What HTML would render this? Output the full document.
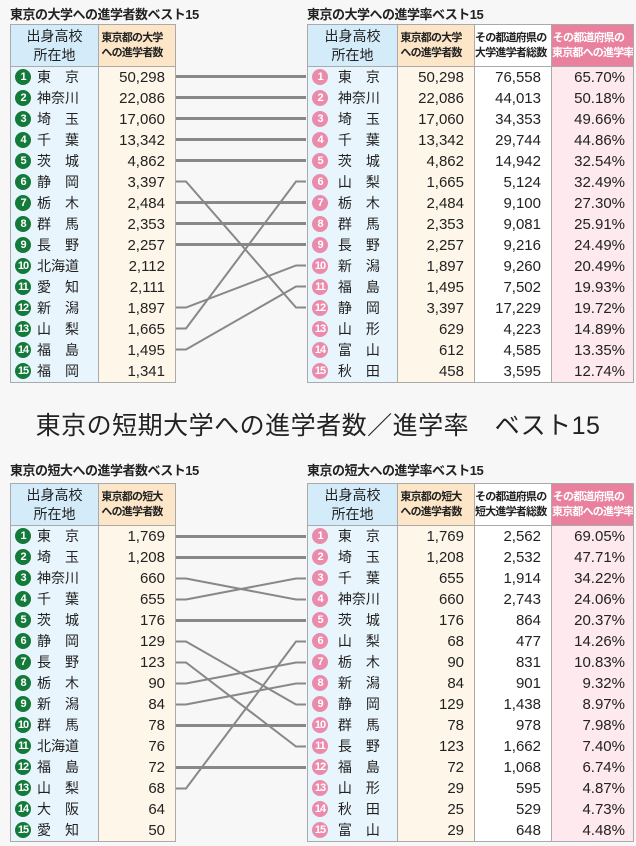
<!DOCTYPE html>
<html><head><meta charset="utf-8"><style>
body{margin:0;width:636px;height:846px;background:#f7f7f7;position:relative;overflow:hidden;font-family:"Liberation Sans","Noto Sans CJK JP",sans-serif;color:#222}
.st{position:absolute;font-size:13px;font-weight:bold;letter-spacing:-0.5px}
table{position:absolute;border-collapse:collapse;table-layout:fixed}
tr{height:21px}
td{padding:0;height:21px;line-height:21px;font-size:14px;border-left:1px solid #aaa;border-right:1px solid #aaa;white-space:nowrap;overflow:hidden;box-sizing:border-box}
tr.h{height:42px}
tr.h td{height:42px;font-size:11px;font-weight:bold;text-align:center;line-height:15px;border-top:1px solid #aaa;border-bottom:1px solid #aaa;letter-spacing:-0.8px}
tr.h td.n{font-size:14px;font-weight:normal;line-height:19px;background:#d4ecf9;letter-spacing:0}
tr.h td.o{background:#fde6c8}
tr.h td.w{background:#fff}
tr.h td.p{background:#e9819e;color:#fff}
tr:last-child td{border-bottom:1px solid #aaa}
td.n{background:#e9f5fd}
td.o{background:#fff6ea;text-align:right;padding-right:10px;font-size:15px}
td.w{background:#fff;text-align:right;padding-right:10px;font-size:15px}
td.p{background:#fde9ee;text-align:right;padding-right:8px;font-size:15px}
.c{display:inline-block;width:16px;height:16px;border-radius:50%;color:#fff;font-size:11px;font-weight:bold;text-align:center;line-height:16px;margin:0 6px 0 4px;vertical-align:middle;letter-spacing:-1px;position:relative;top:-1px}
.g{background:#147a3a}.k{background:#ea8bab}
.t{position:absolute;left:0;width:636px;text-align:center;top:406px;font-size:25px;letter-spacing:0.5px}
</style></head><body>
<div class="st" style="left:10px;top:4px">東京の大学への進学者数ベスト15</div>
<div class="st" style="left:307px;top:4px">東京の大学への進学率ベスト15</div>
<div class="st" style="left:10px;top:460px">東京の短大への進学者数ベスト15</div>
<div class="st" style="left:307px;top:460px">東京の短大への進学率ベスト15</div>
<div class="t">東京の短期大学への進学者数／進学率　ベスト15</div>

<table style="left:10px;top:24px;width:165px"><colgroup><col style="width:88px"><col style="width:77px"></colgroup>
<tr class="h"><td class="n">出身高校<br>所在地</td><td class="o">東京都の大学<br>への進学者数</td></tr>
<tr><td class="n"><span class="c g">1</span>東　京</td><td class="o">50,298</td></tr>
<tr><td class="n"><span class="c g">2</span>神奈川</td><td class="o">22,086</td></tr>
<tr><td class="n"><span class="c g">3</span>埼　玉</td><td class="o">17,060</td></tr>
<tr><td class="n"><span class="c g">4</span>千　葉</td><td class="o">13,342</td></tr>
<tr><td class="n"><span class="c g">5</span>茨　城</td><td class="o">4,862</td></tr>
<tr><td class="n"><span class="c g">6</span>静　岡</td><td class="o">3,397</td></tr>
<tr><td class="n"><span class="c g">7</span>栃　木</td><td class="o">2,484</td></tr>
<tr><td class="n"><span class="c g">8</span>群　馬</td><td class="o">2,353</td></tr>
<tr><td class="n"><span class="c g">9</span>長　野</td><td class="o">2,257</td></tr>
<tr><td class="n"><span class="c g">10</span>北海道</td><td class="o">2,112</td></tr>
<tr><td class="n"><span class="c g">11</span>愛　知</td><td class="o">2,111</td></tr>
<tr><td class="n"><span class="c g">12</span>新　潟</td><td class="o">1,897</td></tr>
<tr><td class="n"><span class="c g">13</span>山　梨</td><td class="o">1,665</td></tr>
<tr><td class="n"><span class="c g">14</span>福　島</td><td class="o">1,495</td></tr>
<tr><td class="n"><span class="c g">15</span>福　岡</td><td class="o">1,341</td></tr>
</table>

<table style="left:307px;top:24px;width:326px"><colgroup><col style="width:90px"><col style="width:77px"><col style="width:77px"><col style="width:82px"></colgroup>
<tr class="h"><td class="n">出身高校<br>所在地</td><td class="o">東京都の大学<br>への進学者数</td><td class="w">その都道府県の<br>大学進学者総数</td><td class="p">その都道府県の<br>東京都への進学率</td></tr>
<tr><td class="n"><span class="c k">1</span> 東　京</td><td class="o">50,298</td><td class="w">76,558</td><td class="p">65.70%</td></tr>
<tr><td class="n"><span class="c k">2</span> 神奈川</td><td class="o">22,086</td><td class="w">44,013</td><td class="p">50.18%</td></tr>
<tr><td class="n"><span class="c k">3</span> 埼　玉</td><td class="o">17,060</td><td class="w">34,353</td><td class="p">49.66%</td></tr>
<tr><td class="n"><span class="c k">4</span> 千　葉</td><td class="o">13,342</td><td class="w">29,744</td><td class="p">44.86%</td></tr>
<tr><td class="n"><span class="c k">5</span> 茨　城</td><td class="o">4,862</td><td class="w">14,942</td><td class="p">32.54%</td></tr>
<tr><td class="n"><span class="c k">6</span> 山　梨</td><td class="o">1,665</td><td class="w">5,124</td><td class="p">32.49%</td></tr>
<tr><td class="n"><span class="c k">7</span> 栃　木</td><td class="o">2,484</td><td class="w">9,100</td><td class="p">27.30%</td></tr>
<tr><td class="n"><span class="c k">8</span> 群　馬</td><td class="o">2,353</td><td class="w">9,081</td><td class="p">25.91%</td></tr>
<tr><td class="n"><span class="c k">9</span> 長　野</td><td class="o">2,257</td><td class="w">9,216</td><td class="p">24.49%</td></tr>
<tr><td class="n"><span class="c k">10</span> 新　潟</td><td class="o">1,897</td><td class="w">9,260</td><td class="p">20.49%</td></tr>
<tr><td class="n"><span class="c k">11</span> 福　島</td><td class="o">1,495</td><td class="w">7,502</td><td class="p">19.93%</td></tr>
<tr><td class="n"><span class="c k">12</span> 静　岡</td><td class="o">3,397</td><td class="w">17,229</td><td class="p">19.72%</td></tr>
<tr><td class="n"><span class="c k">13</span> 山　形</td><td class="o">629</td><td class="w">4,223</td><td class="p">14.89%</td></tr>
<tr><td class="n"><span class="c k">14</span> 富　山</td><td class="o">612</td><td class="w">4,585</td><td class="p">13.35%</td></tr>
<tr><td class="n"><span class="c k">15</span> 秋　田</td><td class="o">458</td><td class="w">3,595</td><td class="p">12.74%</td></tr>
</table>

<table style="left:10px;top:483px;width:165px"><colgroup><col style="width:88px"><col style="width:77px"></colgroup>
<tr class="h"><td class="n">出身高校<br>所在地</td><td class="o">東京都の短大<br>への進学者数</td></tr>
<tr><td class="n"><span class="c g">1</span>東　京</td><td class="o">1,769</td></tr>
<tr><td class="n"><span class="c g">2</span>埼　玉</td><td class="o">1,208</td></tr>
<tr><td class="n"><span class="c g">3</span>神奈川</td><td class="o">660</td></tr>
<tr><td class="n"><span class="c g">4</span>千　葉</td><td class="o">655</td></tr>
<tr><td class="n"><span class="c g">5</span>茨　城</td><td class="o">176</td></tr>
<tr><td class="n"><span class="c g">6</span>静　岡</td><td class="o">129</td></tr>
<tr><td class="n"><span class="c g">7</span>長　野</td><td class="o">123</td></tr>
<tr><td class="n"><span class="c g">8</span>栃　木</td><td class="o">90</td></tr>
<tr><td class="n"><span class="c g">9</span>新　潟</td><td class="o">84</td></tr>
<tr><td class="n"><span class="c g">10</span>群　馬</td><td class="o">78</td></tr>
<tr><td class="n"><span class="c g">11</span>北海道</td><td class="o">76</td></tr>
<tr><td class="n"><span class="c g">12</span>福　島</td><td class="o">72</td></tr>
<tr><td class="n"><span class="c g">13</span>山　梨</td><td class="o">68</td></tr>
<tr><td class="n"><span class="c g">14</span>大　阪</td><td class="o">64</td></tr>
<tr><td class="n"><span class="c g">15</span>愛　知</td><td class="o">50</td></tr>
</table>

<table style="left:307px;top:483px;width:326px"><colgroup><col style="width:90px"><col style="width:77px"><col style="width:77px"><col style="width:82px"></colgroup>
<tr class="h"><td class="n">出身高校<br>所在地</td><td class="o">東京都の短大<br>への進学者数</td><td class="w">その都道府県の<br>短大進学者総数</td><td class="p">その都道府県の<br>東京都への進学率</td></tr>
<tr><td class="n"><span class="c k">1</span> 東　京</td><td class="o">1,769</td><td class="w">2,562</td><td class="p">69.05%</td></tr>
<tr><td class="n"><span class="c k">2</span> 埼　玉</td><td class="o">1,208</td><td class="w">2,532</td><td class="p">47.71%</td></tr>
<tr><td class="n"><span class="c k">3</span> 千　葉</td><td class="o">655</td><td class="w">1,914</td><td class="p">34.22%</td></tr>
<tr><td class="n"><span class="c k">4</span> 神奈川</td><td class="o">660</td><td class="w">2,743</td><td class="p">24.06%</td></tr>
<tr><td class="n"><span class="c k">5</span> 茨　城</td><td class="o">176</td><td class="w">864</td><td class="p">20.37%</td></tr>
<tr><td class="n"><span class="c k">6</span> 山　梨</td><td class="o">68</td><td class="w">477</td><td class="p">14.26%</td></tr>
<tr><td class="n"><span class="c k">7</span> 栃　木</td><td class="o">90</td><td class="w">831</td><td class="p">10.83%</td></tr>
<tr><td class="n"><span class="c k">8</span> 新　潟</td><td class="o">84</td><td class="w">901</td><td class="p">9.32%</td></tr>
<tr><td class="n"><span class="c k">9</span> 静　岡</td><td class="o">129</td><td class="w">1,438</td><td class="p">8.97%</td></tr>
<tr><td class="n"><span class="c k">10</span> 群　馬</td><td class="o">78</td><td class="w">978</td><td class="p">7.98%</td></tr>
<tr><td class="n"><span class="c k">11</span> 長　野</td><td class="o">123</td><td class="w">1,662</td><td class="p">7.40%</td></tr>
<tr><td class="n"><span class="c k">12</span> 福　島</td><td class="o">72</td><td class="w">1,068</td><td class="p">6.74%</td></tr>
<tr><td class="n"><span class="c k">13</span> 山　形</td><td class="o">29</td><td class="w">595</td><td class="p">4.87%</td></tr>
<tr><td class="n"><span class="c k">14</span> 秋　田</td><td class="o">25</td><td class="w">529</td><td class="p">4.73%</td></tr>
<tr><td class="n"><span class="c k">15</span> 富　山</td><td class="o">29</td><td class="w">648</td><td class="p">4.48%</td></tr>
</table>

<svg width="636" height="846" style="position:absolute;left:0;top:0" fill="none" stroke="#888">
<g stroke-width="3">
<line x1="176" y1="76.5" x2="306" y2="76.5"/><line x1="176" y1="97.5" x2="306" y2="97.5"/><line x1="176" y1="118.5" x2="306" y2="118.5"/><line x1="176" y1="139.5" x2="306" y2="139.5"/><line x1="176" y1="160.5" x2="306" y2="160.5"/>
<line x1="176" y1="202.5" x2="306" y2="202.5"/><line x1="176" y1="223.5" x2="306" y2="223.5"/><line x1="176" y1="244.5" x2="306" y2="244.5"/>
<line x1="176" y1="536.5" x2="306" y2="536.5"/><line x1="176" y1="557.5" x2="306" y2="557.5"/><line x1="176" y1="620.5" x2="306" y2="620.5"/><line x1="176" y1="725.5" x2="306" y2="725.5"/><line x1="176" y1="767.5" x2="306" y2="767.5"/>
</g>
<g stroke-width="2">
<polyline points="176,181.5 186,181.5 296,307.5 306,307.5"/>
<polyline points="176,307.5 186,307.5 296,265.5 306,265.5"/>
<polyline points="176,328.5 186,328.5 296,181.5 306,181.5"/>
<polyline points="176,349.5 186,349.5 296,286.5 306,286.5"/>
<polyline points="176,578.5 186,578.5 296,599.5 306,599.5"/>
<polyline points="176,599.5 186,599.5 296,578.5 306,578.5"/>
<polyline points="176,641.5 186,641.5 296,704.5 306,704.5"/>
<polyline points="176,662.5 186,662.5 296,746.5 306,746.5"/>
<polyline points="176,683.5 186,683.5 296,662.5 306,662.5"/>
<polyline points="176,704.5 186,704.5 296,683.5 306,683.5"/>
<polyline points="176,788.5 186,788.5 296,641.5 306,641.5"/>
</g>
</svg>
</body></html>
